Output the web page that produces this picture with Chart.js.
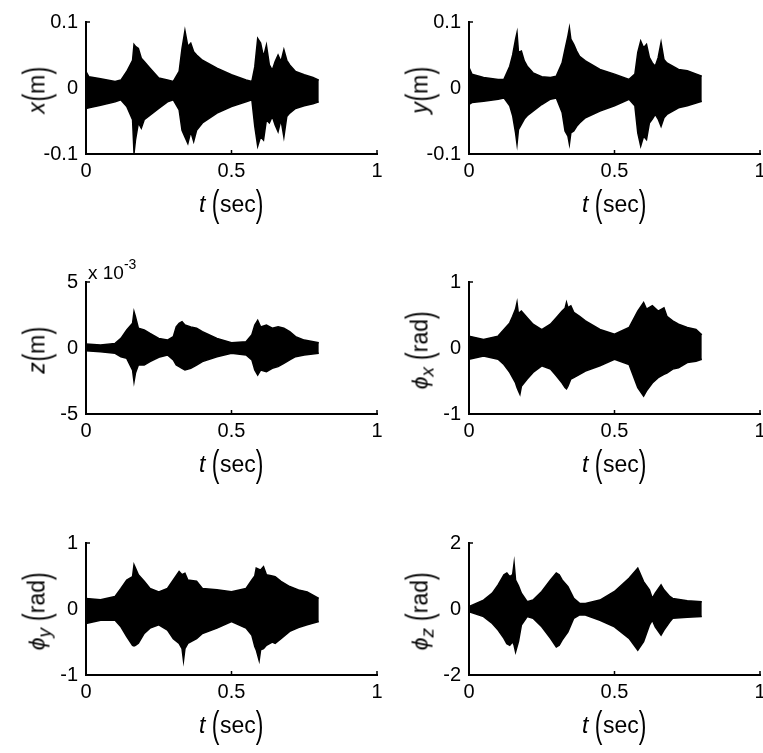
<!DOCTYPE html>
<html>
<head>
<meta charset="utf-8">
<script src="https://cdn.jsdelivr.net/npm/chart.js@4.4.1/dist/chart.umd.min.js"></script>
<style>
  html, body { margin: 0; padding: 0; background: #fff; }
  #page { position: relative; width: 763px; height: 753px; overflow: hidden; font-family: 'Liberation Sans', Arial, sans-serif; color: #000; }
  canvas { position: absolute; }
  .xt, .yt { position: absolute; white-space: nowrap; font-size: 23px; line-height: 1; }
  .xt { transform: translate(-50%, -50%); }
  .yt { transform: translate(-50%, -50%) rotate(-90deg); }
  .p { font-size: 37px; font-weight: 300; display: inline-block; transform: scaleX(0.62); vertical-align: -4px; margin: 0 -2px; }
  .mul { position: absolute; font-size: 19px; line-height: 1; }
  .mul sup { font-size: 14px; position: relative; top: -3px; }
</style>
</head>
<body>
<div id="page"></div>
<script>
// ── Data (envelope of each oscillating response) ──
const xTicks = [0, 0.5, 1];

// x (m)
const tX = [0,0.01,0.05,0.1,0.12,0.14,0.16,0.165,0.17,0.18,0.19,0.2,0.22,0.25,0.28,0.3,0.32,0.33,0.34,0.35,0.36,0.37,0.38,0.4,0.45,0.5,0.55,0.57,0.58,0.59,0.6,0.61,0.62,0.63,0.64,0.65,0.66,0.67,0.68,0.69,0.7,0.72,0.75,0.78,0.8];
const xUpper = [0.025,0.017,0.014,0.01,0.012,0.025,0.042,0.066,0.063,0.06,0.045,0.04,0.03,0.015,0.012,0.01,0.025,0.06,0.087,0.063,0.068,0.055,0.05,0.042,0.03,0.02,0.012,0.01,0.032,0.075,0.068,0.047,0.065,0.035,0.027,0.04,0.05,0.04,0.058,0.042,0.035,0.025,0.02,0.016,0.012];
const xLower = [-0.031,-0.03,-0.026,-0.021,-0.018,-0.028,-0.048,-0.099,-0.079,-0.053,-0.061,-0.048,-0.041,-0.031,-0.021,-0.018,-0.033,-0.064,-0.074,-0.084,-0.066,-0.081,-0.064,-0.053,-0.038,-0.028,-0.021,-0.018,-0.058,-0.088,-0.074,-0.079,-0.048,-0.053,-0.043,-0.056,-0.066,-0.048,-0.074,-0.043,-0.038,-0.031,-0.027,-0.024,-0.021];
const xYTicks = [-0.1, 0, 0.1];

// y (m)
const tY = [0,0.01,0.05,0.1,0.12,0.14,0.15,0.16,0.165,0.17,0.18,0.19,0.2,0.22,0.25,0.28,0.3,0.32,0.33,0.34,0.345,0.35,0.36,0.37,0.38,0.4,0.45,0.5,0.55,0.57,0.58,0.59,0.6,0.61,0.62,0.63,0.64,0.65,0.66,0.67,0.68,0.7,0.72,0.75,0.8];
const yUpper = [0.031,0.021,0.016,0.013,0.013,0.033,0.05,0.074,0.084,0.054,0.056,0.041,0.033,0.023,0.017,0.016,0.018,0.038,0.059,0.079,0.091,0.074,0.066,0.056,0.048,0.041,0.028,0.021,0.013,0.021,0.054,0.071,0.061,0.066,0.046,0.038,0.033,0.046,0.069,0.043,0.038,0.033,0.028,0.026,0.018];
const yLower = [-0.025,-0.022,-0.02,-0.017,-0.015,-0.027,-0.042,-0.068,-0.085,-0.063,-0.055,-0.047,-0.042,-0.035,-0.025,-0.017,-0.015,-0.037,-0.065,-0.073,-0.085,-0.068,-0.065,-0.058,-0.053,-0.045,-0.035,-0.027,-0.017,-0.027,-0.068,-0.088,-0.073,-0.078,-0.053,-0.047,-0.04,-0.047,-0.058,-0.045,-0.04,-0.035,-0.03,-0.027,-0.02];
const yYTicks = [-0.1, 0, 0.1];

// z (x10^-3 m)
const tZ = [0,0.05,0.1,0.12,0.14,0.16,0.165,0.17,0.18,0.2,0.22,0.25,0.28,0.3,0.31,0.32,0.33,0.34,0.36,0.38,0.4,0.45,0.5,0.55,0.57,0.58,0.59,0.6,0.62,0.64,0.66,0.68,0.7,0.72,0.75,0.8];
const zUpper = [0.3,0.23,0.35,0.73,1.36,1.87,2.75,2.37,1.5,1.36,1.1,0.73,0.6,0.86,1.6,1.87,2.0,1.74,1.6,1.5,1.24,0.73,0.4,0.48,1.0,1.74,2.1,1.6,1.74,1.5,1.6,1.5,1.24,0.86,0.6,0.4];
const zLower = [-0.2,-0.28,-0.4,-0.66,-0.78,-1.67,-2.55,-1.9,-1.29,-1.29,-1.03,-0.7,-0.53,-0.9,-1.29,-1.41,-1.54,-1.67,-1.54,-1.29,-1.03,-0.66,-0.4,-0.53,-0.9,-1.67,-2.05,-1.67,-1.8,-1.54,-1.41,-1.16,-0.9,-0.66,-0.53,-0.4];
const zYTicks = [-5, 0, 5];

// phi_x (rad)
const tPx = [0,0.05,0.1,0.12,0.14,0.15,0.16,0.165,0.17,0.175,0.18,0.2,0.22,0.25,0.28,0.3,0.32,0.33,0.335,0.34,0.35,0.36,0.38,0.4,0.45,0.5,0.55,0.58,0.6,0.61,0.63,0.65,0.67,0.68,0.7,0.72,0.75,0.78,0.8];
const pxUpper = [0.18,0.13,0.18,0.28,0.38,0.48,0.59,0.69,0.51,0.54,0.56,0.46,0.36,0.28,0.36,0.46,0.56,0.6,0.69,0.61,0.64,0.54,0.48,0.41,0.28,0.21,0.31,0.56,0.69,0.59,0.64,0.56,0.61,0.48,0.41,0.36,0.31,0.28,0.2];
const pxLower = [-0.17,-0.12,-0.17,-0.25,-0.37,-0.45,-0.53,-0.6,-0.65,-0.7,-0.58,-0.47,-0.37,-0.27,-0.32,-0.42,-0.53,-0.6,-0.62,-0.58,-0.47,-0.45,-0.4,-0.35,-0.27,-0.17,-0.25,-0.6,-0.73,-0.65,-0.53,-0.45,-0.4,-0.38,-0.32,-0.3,-0.22,-0.2,-0.17];
const pxYTicks = [-1, 0, 1];

// phi_y (rad)
const tPy = [0,0.05,0.1,0.12,0.14,0.16,0.165,0.17,0.18,0.2,0.22,0.25,0.28,0.3,0.32,0.33,0.335,0.34,0.35,0.38,0.4,0.45,0.5,0.55,0.57,0.58,0.585,0.595,0.6,0.61,0.62,0.64,0.65,0.67,0.7,0.73,0.76,0.8];
const pyUpper = [0.16,0.14,0.19,0.31,0.44,0.49,0.67,0.62,0.52,0.42,0.31,0.26,0.31,0.44,0.57,0.52,0.53,0.54,0.44,0.42,0.31,0.29,0.26,0.31,0.44,0.5,0.62,0.6,0.59,0.64,0.52,0.5,0.49,0.42,0.34,0.29,0.26,0.16];
const pyLower = [-0.22,-0.17,-0.17,-0.27,-0.42,-0.55,-0.56,-0.55,-0.52,-0.37,-0.29,-0.24,-0.32,-0.45,-0.52,-0.6,-0.78,-0.6,-0.52,-0.45,-0.37,-0.29,-0.19,-0.29,-0.4,-0.57,-0.62,-0.78,-0.62,-0.6,-0.55,-0.5,-0.52,-0.45,-0.34,-0.28,-0.24,-0.19];
const pyYTicks = [-1, 0, 1];

// phi_z (rad)
const tPz = [0,0.05,0.08,0.1,0.12,0.13,0.14,0.15,0.155,0.16,0.17,0.18,0.2,0.22,0.25,0.28,0.3,0.31,0.32,0.34,0.36,0.38,0.4,0.45,0.5,0.55,0.58,0.6,0.62,0.63,0.64,0.66,0.67,0.69,0.7,0.75,0.8];
const pzUpper = [0.07,0.27,0.48,0.73,1.04,1.09,0.98,1.04,1.39,0.88,0.7,0.48,0.22,0.27,0.53,0.88,1.09,1.04,0.88,0.68,0.32,0.17,0.17,0.27,0.53,0.93,1.24,0.83,0.58,0.32,0.48,0.73,0.58,0.38,0.32,0.25,0.22];
const pzLower = [-0.08,-0.23,-0.44,-0.64,-0.89,-1.05,-1.1,-0.99,-1.1,-1.3,-0.99,-0.49,-0.23,-0.28,-0.54,-0.89,-1.15,-1.1,-0.94,-0.69,-0.28,-0.18,-0.18,-0.34,-0.54,-0.89,-1.25,-0.99,-0.49,-0.34,-0.54,-0.79,-0.64,-0.39,-0.28,-0.25,-0.23];
const pzYTicks = [-2, 0, 2];

// ── Layout ─────────────────────────────────
const PLOT_W = 291, PLOT_H = 132;
const PAD_L = 80, PAD_T = 20, PAD_R = 20, PAD_B = 40;

const panels = [
  { left: 86,  top: 22,  t: tX,  up: xUpper,  lo: xLower,  ticks: xYTicks,  ylabel: '<i>x</i><span class="p">(</span>m<span class="p">)</span>' },
  { left: 469, top: 22,  t: tY,  up: yUpper,  lo: yLower,  ticks: yYTicks,  ylabel: '<i>y</i><span class="p">(</span>m<span class="p">)</span>' },
  { left: 86,  top: 282, t: tZ,  up: zUpper,  lo: zLower,  ticks: zYTicks,  ylabel: '<i>z</i><span class="p">(</span>m<span class="p">)</span>', mult: true },
  { left: 469, top: 282, t: tPx, up: pxUpper, lo: pxLower, ticks: pxYTicks, ylabel: '<i>ϕ<sub>x</sub></i> <span class="p">(</span>rad<span class="p">)</span>' },
  { left: 86,  top: 543, t: tPy, up: pyUpper, lo: pyLower, ticks: pyYTicks, ylabel: '<i>ϕ<sub>y</sub></i> <span class="p">(</span>rad<span class="p">)</span>' },
  { left: 469, top: 543, t: tPz, up: pzUpper, lo: pzLower, ticks: pzYTicks, ylabel: '<i>ϕ<sub>z</sub></i> <span class="p">(</span>rad<span class="p">)</span>' }
];

// short inward tick marks, MATLAB style
const inwardTicks = {
  id: 'inwardTicks',
  afterDraw(chart) {
    const { ctx, chartArea: a, scales } = chart;
    ctx.save();
    ctx.strokeStyle = '#000';
    ctx.lineWidth = 1.5;
    scales.x.ticks.forEach(tk => {
      const px = scales.x.getPixelForValue(tk.value);
      ctx.beginPath(); ctx.moveTo(px, a.bottom); ctx.lineTo(px, a.bottom - 4); ctx.stroke();
    });
    scales.y.ticks.forEach(tk => {
      const py = scales.y.getPixelForValue(tk.value);
      ctx.beginPath(); ctx.moveTo(a.left, py); ctx.lineTo(a.left + 4, py); ctx.stroke();
    });
    ctx.restore();
  }
};

const page = document.getElementById('page');
const tickFont = { family: "'Liberation Sans', Arial, sans-serif", size: 20 };

panels.forEach(p => {
  const cv = document.createElement('canvas');
  cv.width = PAD_L + PLOT_W + PAD_R;
  cv.height = PAD_T + PLOT_H + PAD_B;
  cv.style.left = (p.left - PAD_L) + 'px';
  cv.style.top = (p.top - PAD_T) + 'px';
  page.appendChild(cv);

  const yMin = p.ticks[0], yMax = p.ticks[p.ticks.length - 1];

  new Chart(cv.getContext('2d'), {
    type: 'line',
    data: {
      datasets: [
        { data: p.t.map((t, i) => ({ x: t, y: p.up[i] })), borderColor: '#000', borderWidth: 1.5, pointRadius: 0, fill: false },
        { data: p.t.map((t, i) => ({ x: t, y: p.lo[i] })), borderColor: '#000', borderWidth: 1.5, pointRadius: 0, fill: '-1', backgroundColor: '#000' }
      ]
    },
    options: {
      responsive: false,
      devicePixelRatio: 1,
      animation: false,
      events: [],
      layout: { padding: { top: PAD_T, right: PAD_R, left: 0, bottom: 0 } },
      plugins: { legend: { display: false }, tooltip: { enabled: false } },
      scales: {
        x: {
          type: 'linear', min: 0, max: 1,
          afterFit: s => { s.height = PAD_B; },
          afterBuildTicks: s => { s.ticks = xTicks.map(v => ({ value: v })); },
          grid: { display: false, drawTicks: false },
          border: { display: true, color: '#000', width: 2 },
          ticks: { color: '#000', font: tickFont, padding: 5, maxRotation: 0, callback: v => String(v) }
        },
        y: {
          type: 'linear', min: yMin, max: yMax,
          afterFit: s => { s.width = PAD_L; },
          afterBuildTicks: s => { s.ticks = p.ticks.map(v => ({ value: v })); },
          grid: { display: false, drawTicks: false },
          border: { display: true, color: '#000', width: 2 },
          ticks: { color: '#000', font: tickFont, padding: 8, callback: v => String(v) }
        }
      }
    },
    plugins: [inwardTicks]
  });

  const xt = document.createElement('div');
  xt.className = 'xt';
  xt.innerHTML = '<i>t</i> <span class="p">(</span>sec<span class="p">)</span>';
  xt.style.left = (p.left + PLOT_W / 2) + 'px';
  xt.style.top = (p.top + PLOT_H + 49) + 'px';
  page.appendChild(xt);

  const yt = document.createElement('div');
  yt.className = 'yt';
  yt.innerHTML = p.ylabel;
  yt.style.left = (p.left - 50) + 'px';
  yt.style.top = (p.top + PLOT_H / 2 + 2) + 'px';
  page.appendChild(yt);

  if (p.mult) {
    const m = document.createElement('div');
    m.className = 'mul';
    m.innerHTML = 'x 10<sup>-3</sup>';
    m.style.left = (p.left + 2) + 'px';
    m.style.top = (p.top - 22) + 'px';
    page.appendChild(m);
  }
});
</script>
</body>
</html>
